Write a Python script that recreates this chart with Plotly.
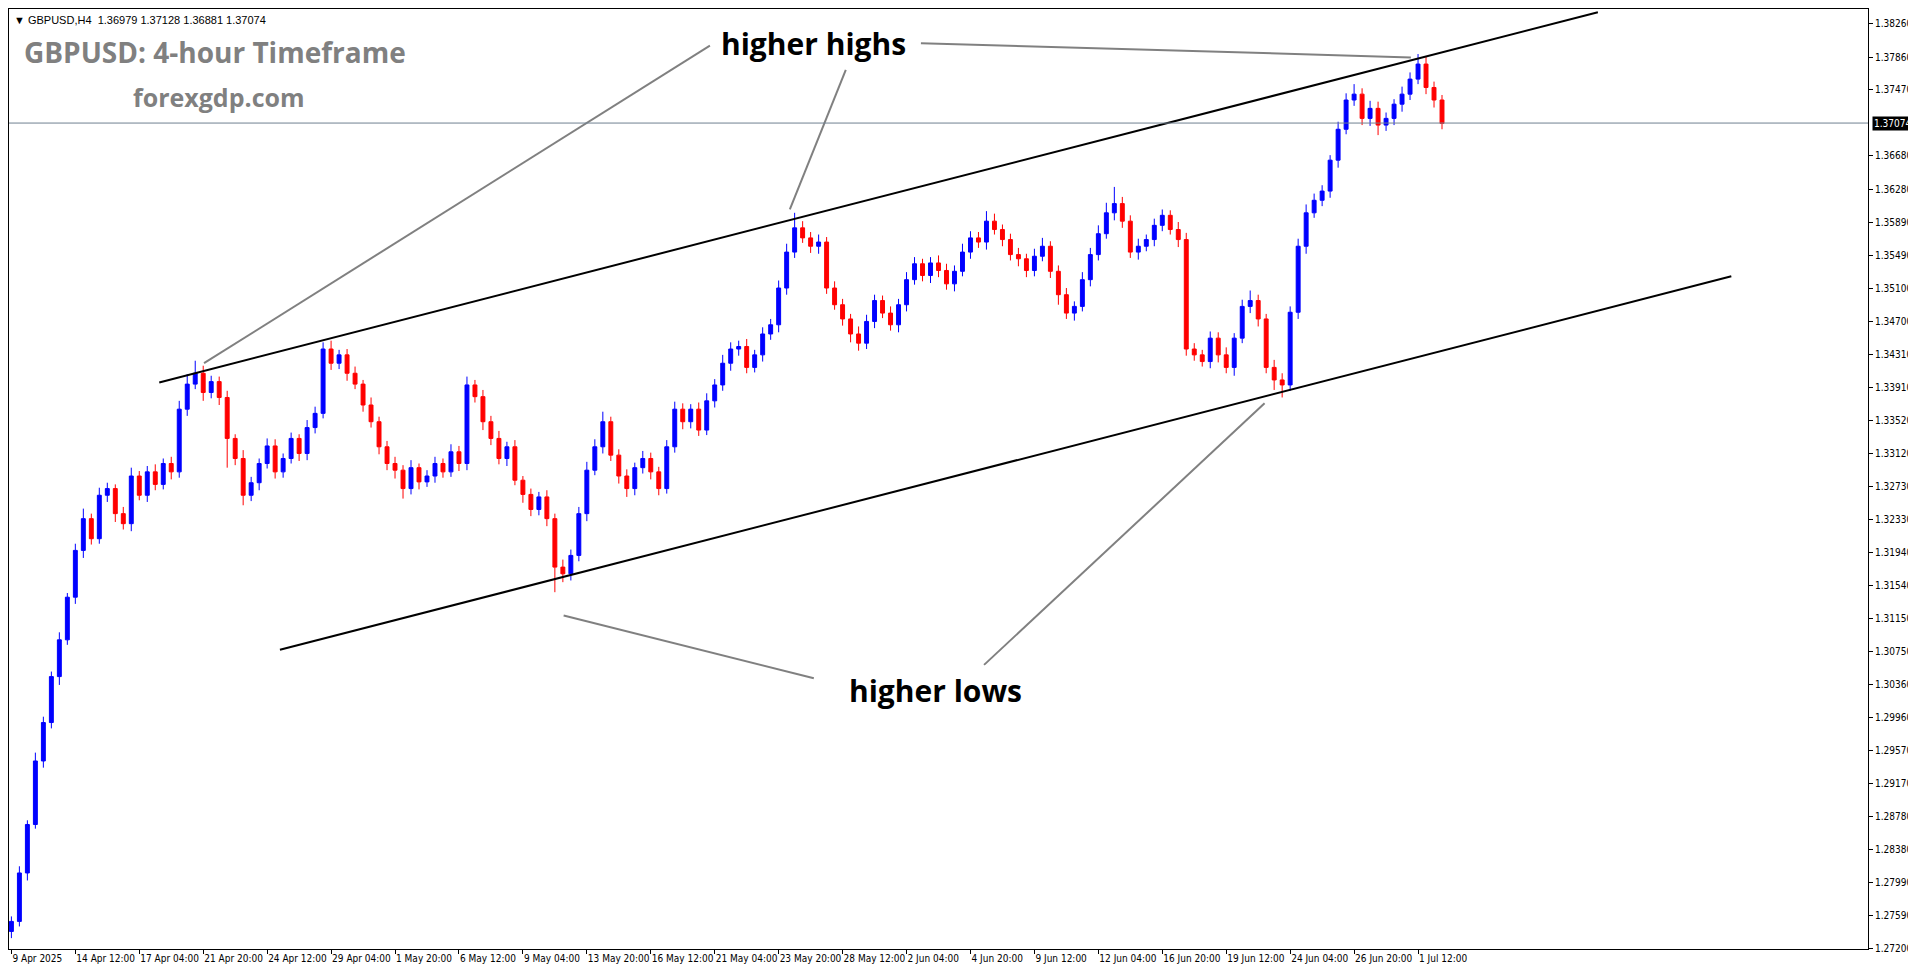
import plotly.graph_objects as go

closes = [1.2752,1.2810,1.2868,1.2944,1.2990,1.3045,1.3089,1.3140,1.3196,1.3234,
1.3210,1.3262,1.3270,1.3240,1.3228,1.3285,1.3262,1.3290,1.3275,1.3300,
1.3290,1.3365,1.3395,1.3408,1.3385,1.3398,1.3379,1.3330,1.3306,1.3262,
1.3277,1.3300,1.3321,1.3290,1.3306,1.3330,1.3312,1.3343,1.3360,1.3437,
1.3420,1.3430,1.3408,1.3395,1.3370,1.3350,1.3320,1.3300,1.3292,1.3270,
1.3295,1.3278,1.3285,1.3300,1.3290,1.3314,1.3300,1.3394,1.3380,1.3350,
1.3330,1.3306,1.3320,1.3280,1.3263,1.3245,1.3260,1.3234,1.3176,1.3168,
1.3190,1.3240,1.3292,1.3320,1.3350,1.3310,1.3285,1.3270,1.3295,1.3306,
1.3290,1.3270,1.3320,1.3365,1.3350,1.3365,1.3340,1.3375,1.3394,1.3420,
1.3437,1.3440,1.3415,1.3430,1.3455,1.3466,1.3510,1.3553,1.3582,1.3570,
1.3560,1.3565,1.3510,1.3490,1.3473,1.3455,1.3444,1.3470,1.3495,1.3480,
1.3466,1.3490,1.3520,1.3539,1.3525,1.3540,1.3531,1.3515,1.3530,1.3553,
1.3570,1.3565,1.3590,1.3580,1.3568,1.3550,1.3545,1.3531,1.3548,1.3560,
1.3530,1.3502,1.3480,1.3488,1.3520,1.3550,1.3575,1.3600,1.3611,1.3590,
1.3553,1.3560,1.3568,1.3585,1.3597,1.3580,1.3568,1.3437,1.3430,1.3422,
1.3450,1.3430,1.3415,1.3450,1.3488,1.3495,1.3473,1.3415,1.3400,1.3394,
1.3481,1.3560,1.3600,1.3615,1.3626,1.3663,1.3700,1.3735,1.3742,1.3713,
1.3725,1.3705,1.3713,1.3730,1.3742,1.3760,1.3778,1.3750,1.3735,1.3707]
first_open = 1.2740
wick_up = [6,8,5,10,7,6,9,5,8,12, 6,9,7,5,8,10,6,7,9,6, 8,10,12,15,9,7,6,8,5,10,
7,6,9,8,6,7,5,9,8,8, 10,6,7,8,5,9,6,7,8,6, 9,5,7,8,6,9,7,10,6,8,
7,9,6,8,5,7,6,8,6,9, 7,8,10,9,12,6,7,8,6,9, 7,6,8,9,7,6,8,9,7,10,
8,7,9,6,8,7,9,10,18,8, 7,9,6,8,7,6,9,8,7,6, 8,7,9,8,6,7,9,8,7,10,
8,7,12,9,6,7,8,6,9,10, 6,7,8,6,9,8,10,12,20,8, 7,9,6,8,7,6,9,8,7,6,
8,7,9,6,8,12,7,6,9,8, 7,9,10,8,7,6,9,8,12,7, 9,8,7,6,9,8,12,9,7,6]
wick_dn = [8,6,9,5,8,7,10,6,8,9, 7,6,8,10,7,9,6,8,7,6, 9,7,8,6,10,7,9,35,8,12,
7,9,6,8,7,6,9,8,7,6, 8,7,9,6,8,7,9,8,10,12, 7,9,6,8,7,6,9,8,7,10,
8,7,9,6,10,8,7,9,30,10, 8,7,9,6,8,7,9,10,8,7, 9,8,6,7,9,8,7,6,8,7,
9,8,7,6,8,7,9,8,7,6, 8,9,7,6,8,10,9,7,8,6, 7,9,8,6,7,9,8,7,9,6,
8,7,9,6,8,7,9,8,7,6, 8,12,7,9,6,8,7,6,9,8, 7,9,6,8,7,6,9,8,7,6,
8,9,7,10,6,8,9,7,12,15, 7,8,9,6,7,8,9,6,7,8, 9,12,7,8,9,7,6,8,9,7]

tick_pos = list(range(0, 184, 8))
tick_text = ["9 Apr 2025","14 Apr 12:00","17 Apr 04:00","21 Apr 20:00","24 Apr 12:00",
"29 Apr 04:00","1 May 20:00","6 May 12:00","9 May 04:00","13 May 20:00","16 May 12:00",
"21 May 04:00","23 May 20:00","28 May 12:00","2 Jun 04:00","4 Jun 20:00","9 Jun 12:00",
"12 Jun 04:00","16 Jun 20:00","19 Jun 12:00","24 Jun 04:00","26 Jun 20:00","1 Jul 12:00"]
price_ticks = [1.38260,1.37860,1.37470,1.36680,1.36280,1.35890,1.35490,1.35100,1.34700,
1.34310,1.33910,1.33520,1.33120,1.32730,1.32330,1.31940,1.31540,1.31150,1.30750,
1.30360,1.29960,1.29570,1.29170,1.28780,1.28380,1.27990,1.27590,1.27200]
last_price = 1.37074

upper_line = {"x": [18.5, 198.5], "y": [1.3397, 1.3840]}
lower_line = {"x": [33.6, 215.2], "y": [1.3077, 1.3524]}
hh_lines = [([87.4, 24.1], [1.3800, 1.3420]), ([104.4, 97.4], [1.3771, 1.3604]),
            ([113.8, 175.1], [1.3803, 1.3786])]
hl_lines = [([100.4, 69.1], [1.3043, 1.3118]), ([121.7, 156.8], [1.3059, 1.3372])]

opens = [first_open] + closes[:-1]
highs = [max(o, c) + u / 10000 for o, c, u in zip(opens, closes, wick_up)]
lows = [min(o, c) - d / 10000 for o, c, d in zip(opens, closes, wick_dn)]
xs = list(range(len(closes)))

fig = go.Figure()
fig.add_trace(go.Candlestick(
    x=xs, open=opens, high=highs, low=lows, close=closes,
    increasing=dict(line=dict(color="#0000FF", width=1), fillcolor="#0000FF"),
    decreasing=dict(line=dict(color="#FF0000", width=1), fillcolor="#FF0000"),
    whiskerwidth=0, showlegend=False, hoverinfo="skip"))

for ln in (upper_line, lower_line):
    fig.add_trace(go.Scatter(x=ln["x"], y=ln["y"], mode="lines",
                             line=dict(color="black", width=2), showlegend=False))
for lx, ly in hh_lines + hl_lines:
    fig.add_trace(go.Scatter(x=lx, y=ly, mode="lines",
                             line=dict(color="#808080", width=2), showlegend=False))

fig.add_shape(type="line", xref="paper", x0=0, x1=1, y0=last_price, y1=last_price,
              line=dict(color="#708090", width=1))
fig.add_annotation(xref="paper", x=1.002, y=last_price, text=f"{last_price:.5f}",
                   showarrow=False, xanchor="left", bgcolor="black", borderpad=1,
                   font=dict(color="white", size=10, family="DejaVu Sans Condensed, Liberation Sans"))

W, H = 1860, 940
def ann(text, px, py, size, color, anchor="left", bold=True, family="Open Sans"):
    fig.add_annotation(xref="paper", yref="paper", x=px / W, y=1 - py / H,
                       text=f"<b>{text}</b>" if bold else text, showarrow=False,
                       xanchor=anchor, yanchor="middle",
                       font=dict(size=size, color=color, family=family))

ann("▼ GBPUSD,H4  1.36979 1.37128 1.36881 1.37074", 3, 11, 11, "black", bold=False,
    family="Liberation Sans")
ann("GBPUSD: 4-hour Timeframe", 13, 43, 28, "#808080")
ann("forexgdp.com", 122, 88, 25, "#808080")
ann("higher highs", 805, 34, 30, "black", anchor="center")
ann("higher lows", 927, 681, 30, "black", anchor="center")

tf = dict(size=10, family="DejaVu Sans Condensed, Liberation Sans Narrow, Liberation Sans", color="black")
fig.update_layout(
    width=1916, height=964, margin=dict(l=1, r=56, t=1, b=23),
    plot_bgcolor="white", paper_bgcolor="white",
    xaxis=dict(range=[-0.3, 232.3], tickvals=tick_pos, ticktext=tick_text, tickangle=0,
               ticklabelposition="outside right", ticks="outside", ticklen=4,
               tickcolor="black", showgrid=False, zeroline=False, automargin=False,
               showline=True, linecolor="black", mirror=True,
               rangeslider=dict(visible=False), tickfont=tf),
    yaxis=dict(range=[1.27190, 1.38439], side="right", tickvals=price_ticks,
               ticktext=[f"{v:.5f}" for v in price_ticks], ticks="outside", ticklen=4,
               tickcolor="black", showgrid=False, zeroline=False,
               showline=True, linecolor="black", mirror=True, automargin=False,
               tickfont=tf),
)
fig.write_html("out.html")
